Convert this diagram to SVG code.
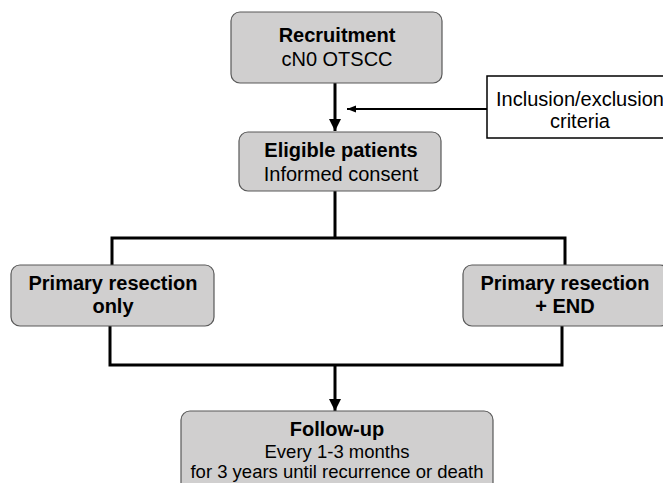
<svg xmlns="http://www.w3.org/2000/svg" width="663" height="483" viewBox="0 0 663 483">
<style>
.box{fill:#d0cfcf;stroke:#595959;stroke-width:1.2}
.wbox{fill:#fff;stroke:#000;stroke-width:1.5}
.t{font-family:"Liberation Sans",Arial,sans-serif;font-size:20px;fill:#000;text-anchor:middle}
.s{font-size:18.5px}
.b{font-weight:bold}
.ln{fill:none;stroke:#000;stroke-width:3}
.thin{fill:none;stroke:#000;stroke-width:1.8}
</style>
<defs>
<marker id="ah" viewBox="0 0 10 10" refX="10" refY="5" markerWidth="4" markerHeight="4" markerUnits="strokeWidth" orient="auto"><path d="M0,0 L10,5 L0,10 z" fill="#000"/></marker>
<marker id="ah2" viewBox="0 0 10 10" refX="10" refY="5" markerWidth="5" markerHeight="5" markerUnits="strokeWidth" orient="auto"><path d="M0,1 L10,5 L0,9 z" fill="#000"/></marker>
</defs>
<g id="connectors">
<line class="ln" x1="335" y1="83" x2="335" y2="131" marker-end="url(#ah)"/>
<line class="thin" x1="487" y1="109" x2="347" y2="109" marker-end="url(#ah2)"/>
<polyline class="ln" points="335,191 335,238"/>
<polyline class="ln" points="112,266 112,238 565,238 565,266"/>
<polyline class="ln" points="110,326 110,365 562,365 562,326"/>
<line class="ln" x1="335" y1="365" x2="335" y2="411" marker-end="url(#ah)"/>
</g>
<g id="recruitment">
<rect class="box" x="231" y="12" width="211" height="71" rx="9"/>
<text class="t b" x="337" y="42">Recruitment</text>
<text class="t" x="337" y="66">cN0 OTSCC</text>
</g>
<g id="criteria">
<rect class="wbox" x="487" y="76" width="180" height="62"/>
<text class="t" x="580" y="106">Inclusion/exclusion</text>
<text class="t" x="580" y="128">criteria</text>
</g>
<g id="eligible">
<rect class="box" x="239" y="132" width="202" height="59" rx="9"/>
<text class="t b" x="341" y="157">Eligible patients</text>
<text class="t" x="341" y="181">Informed consent</text>
</g>
<g id="resection-only">
<rect class="box" x="11" y="265" width="203" height="61" rx="9"/>
<text class="t b" x="113" y="290">Primary resection</text>
<text class="t b" x="113" y="313">only</text>
</g>
<g id="resection-end">
<rect class="box" x="463" y="265" width="206" height="61" rx="9"/>
<text class="t b" x="565" y="290">Primary resection</text>
<text class="t b" x="565" y="313">+ END</text>
</g>
<g id="follow-up">
<rect class="box" x="181" y="411" width="312" height="90" rx="9"/>
<text class="t b" x="337" y="436">Follow-up</text>
<text class="t s" x="337" y="458">Every 1-3 months</text>
<text class="t s" x="337" y="478">for 3 years until recurrence or death</text>
</g>
</svg>
